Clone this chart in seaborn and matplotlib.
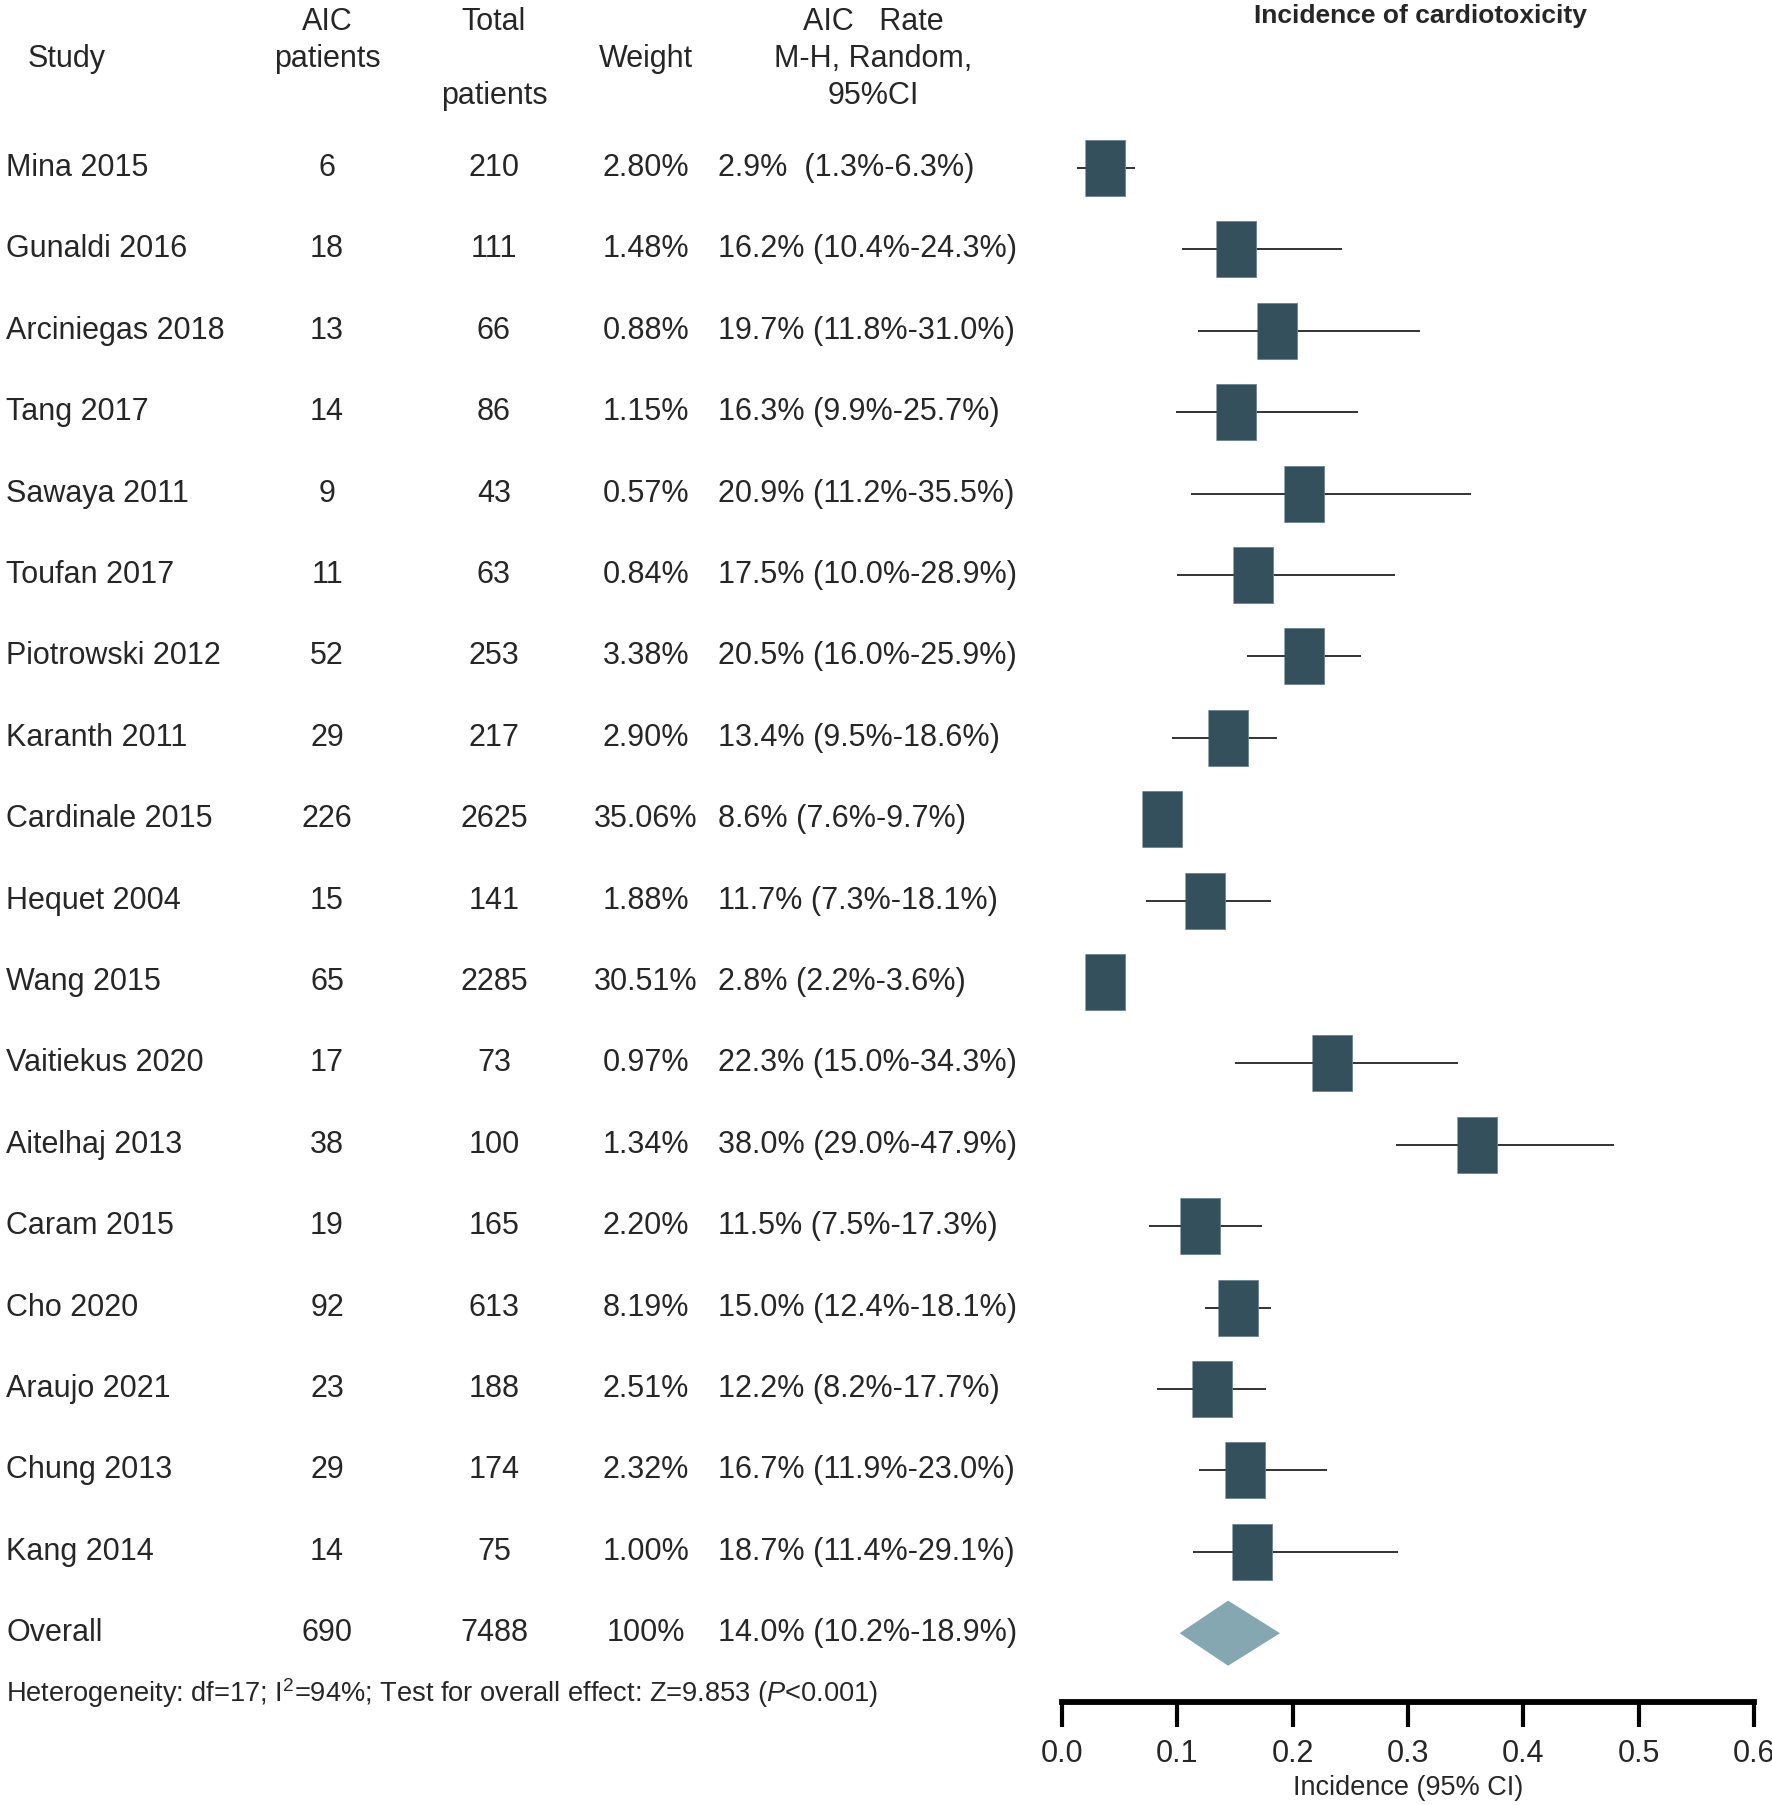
import matplotlib
matplotlib.use('Agg')
import matplotlib.pyplot as plt
import matplotlib.transforms as mtransforms
import seaborn as sns
import pandas as pd

studies = ["Mina 2015", "Gunaldi 2016", "Arciniegas 2018", "Tang 2017", "Sawaya 2011",
           "Toufan 2017", "Piotrowski 2012", "Karanth 2011", "Cardinale 2015", "Hequet 2004",
           "Wang 2015", "Vaitiekus 2020", "Aitelhaj 2013", "Caram 2015", "Cho 2020",
           "Araujo 2021", "Chung 2013", "Kang 2014"]
aic_patients = [6, 18, 13, 14, 9, 11, 52, 29, 226, 15, 65, 17, 38, 19, 92, 23, 29, 14]
total_patients = [210, 111, 66, 86, 43, 63, 253, 217, 2625, 141, 2285, 73, 100, 165, 613, 188, 174, 75]
weights = ["2.80%", "1.48%", "0.88%", "1.15%", "0.57%", "0.84%", "3.38%", "2.90%", "35.06%",
           "1.88%", "30.51%", "0.97%", "1.34%", "2.20%", "8.19%", "2.51%", "2.32%", "1.00%"]
rate = [2.9, 16.2, 19.7, 16.3, 20.9, 17.5, 20.5, 13.4, 8.6, 11.7, 2.8, 22.3, 38.0, 11.5, 15.0, 12.2, 16.7, 18.7]
ci_low = [1.3, 10.4, 11.8, 9.9, 11.2, 10.0, 16.0, 9.5, 7.6, 7.3, 2.2, 15.0, 29.0, 7.5, 12.4, 8.2, 11.9, 11.4]
ci_high = [6.3, 24.3, 31.0, 25.7, 35.5, 28.9, 25.9, 18.6, 9.7, 18.1, 3.6, 34.3, 47.9, 17.3, 18.1, 17.7, 23.0, 29.1]
# where the squares sit on the plot (read from the figure, not exactly at the rate)
box_pos = [0.037, 0.151, 0.186, 0.151, 0.210, 0.166, 0.210, 0.144, 0.087, 0.124,
           0.037, 0.234, 0.360, 0.120, 0.153, 0.130, 0.159, 0.165]

overall_aic = 690
overall_total = 7488
overall_weight = "100%"
overall_rate, overall_low, overall_high = 14.0, 10.2, 18.9
overall_peak = 0.144

xticks = [0.0, 0.1, 0.2, 0.3, 0.4, 0.5, 0.6]

df = pd.DataFrame({
    "study": studies,
    "row": range(len(studies)),
    "box": box_pos,
    "lo": [v / 100 for v in ci_low],
    "hi": [v / 100 for v in ci_high],
})

sns.set_theme(style="white")
plt.rcParams['font.family'] = ['Liberation Sans', 'DejaVu Sans']
plt.rcParams['mathtext.fontset'] = 'custom'
plt.rcParams['mathtext.rm'] = 'Liberation Sans'
plt.rcParams['mathtext.it'] = 'Liberation Sans:italic'

W, H = 1772, 1805
fig = plt.figure(figsize=(W / 100, H / 100), dpi=100)

# forest axis: x 0..0.6 spans px 1062..1754, spine at px 1702
row0_px, row_step = 168, 81.4
spine_px = 1702
ax = fig.add_axes([1062 / W, (H - spine_px) / H, (1754 - 1062) / W, spine_px / H])
ax.set_xlim(0, 0.6)
ax.set_ylim((spine_px - row0_px) / row_step, -row0_px / row_step)

box_color = "#33505c"
ax.hlines(df["row"], df["lo"], df["hi"], color="#222222", lw=1.3, zorder=2)
sns.scatterplot(data=df, x="box", y="row", ax=ax, marker=[(-0.71, -1), (0.71, -1), (0.71, 1), (-0.71, 1)],
                s=1625, color=box_color, edgecolor="#6a8490", linewidth=0.6, zorder=3, legend=False)

# overall diamond
ov_row = len(studies)
ax.fill([overall_low / 100, overall_peak, overall_high / 100, overall_peak],
        [ov_row, ov_row - 0.4, ov_row, ov_row + 0.4], color="#84a7b1", zorder=3, lw=0)

for s in ["left", "top", "right"]:
    ax.spines[s].set_visible(False)
ax.spines["bottom"].set_linewidth(4.2)
ax.spines["bottom"].set_color("black")
ax.set_yticks([])
ax.set_xticks(xticks)
ax.set_xticklabels([f"{t:.1f}" for t in xticks],
                   family=['Liberation Sans Narrow', 'Liberation Sans'], fontsize=22)
ax.tick_params(axis="x", direction="out", length=18, width=3, color="black", pad=9, bottom=True)
ax.set_xlabel("Incidence (95% CI)", fontsize=19.5, labelpad=4)
ax.set_ylabel("")

# table text
tr = mtransforms.blended_transform_factory(fig.transFigure, ax.transData)
fs = 22
x_study, x_aic, x_total, x_weight, x_rate = 6 / W, 327 / W, 494 / W, 646 / W, 718 / W
x_head_study = 28 / W
x_head_rate = 873 / W

def hy(px):
    return (px - row0_px) / row_step

ax.text(x_head_study, hy(59), "Study", transform=tr, fontsize=fs, ha="left", va="center")
ax.text(x_aic, hy(22), "AIC", transform=tr, fontsize=fs, ha="center", va="center")
ax.text(x_aic, hy(59), "patients", transform=tr, fontsize=fs, ha="center", va="center")
ax.text(x_total, hy(22), "Total", transform=tr, fontsize=fs, ha="center", va="center")
ax.text(x_total, hy(96), "patients", transform=tr, fontsize=fs, ha="center", va="center")
ax.text(x_weight, hy(59), "Weight", transform=tr, fontsize=fs, ha="center", va="center")
ax.text(x_head_rate, hy(22), "AIC   Rate", transform=tr, fontsize=fs, ha="center", va="center")
ax.text(x_head_rate, hy(59), "M-H, Random,", transform=tr, fontsize=fs, ha="center", va="center")
ax.text(x_head_rate, hy(96), "95%CI", transform=tr, fontsize=fs, ha="center", va="center")
fig.text(1420 / W, 1 - 16 / H, "Incidence of cardiotoxicity", fontsize=19, fontweight="bold",
         family=['Liberation Sans Narrow', 'Liberation Sans'], ha="center", va="center")

for i, name in enumerate(studies):
    ax.text(x_study, i, name, transform=tr, fontsize=fs, ha="left", va="center")
    ax.text(x_aic, i, str(aic_patients[i]), transform=tr, fontsize=fs, ha="center", va="center")
    ax.text(x_total, i, str(total_patients[i]), transform=tr, fontsize=fs, ha="center", va="center")
    ax.text(x_weight, i, weights[i], transform=tr, fontsize=fs, ha="center", va="center")
    gap = "  " if i == 0 else " "
    label = f"{rate[i]:.1f}%{gap}({ci_low[i]:.1f}%-{ci_high[i]:.1f}%)"
    ax.text(x_rate, i, label, transform=tr, fontsize=fs, ha="left", va="center")

ax.text(x_study, ov_row, "Overall", transform=tr, fontsize=fs, ha="left", va="center")
ax.text(x_aic, ov_row, str(overall_aic), transform=tr, fontsize=fs, ha="center", va="center")
ax.text(x_total, ov_row, str(overall_total), transform=tr, fontsize=fs, ha="center", va="center")
ax.text(x_weight, ov_row, overall_weight, transform=tr, fontsize=fs, ha="center", va="center")
ax.text(x_rate, ov_row, f"{overall_rate:.1f}% ({overall_low:.1f}%-{overall_high:.1f}%)",
        transform=tr, fontsize=fs, ha="left", va="center")

ax.text(x_study, hy(1693), "Heterogeneity: df=17; I$^2$=94%; Test for overall effect: Z=9.853 ($\\it{P}$<0.001)",
        transform=tr, fontsize=19.6, ha="left", va="center")

fig.savefig("out.png", dpi=100)
plt.close(fig)
